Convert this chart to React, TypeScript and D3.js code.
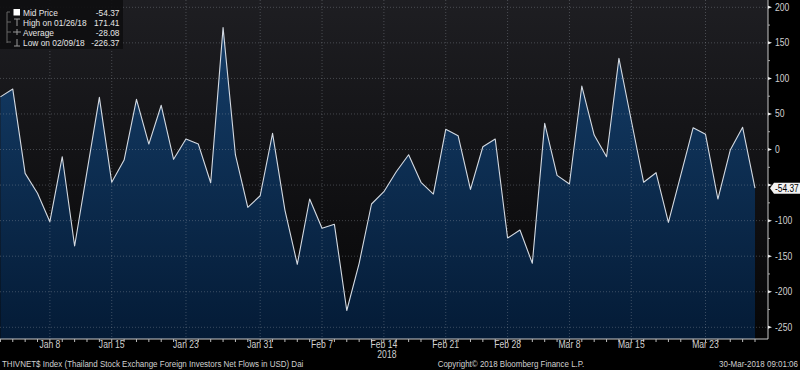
import * as d3 from "d3";

// trading days, Jan 2 - Mar 29 2018 (Jan 1 and Mar 1 closed)
const dates = [
  "01/02", "01/03", "01/04", "01/05", "01/08", "01/09", "01/10", "01/11", "01/12",
  "01/15", "01/16", "01/17", "01/18", "01/19", "01/22", "01/23", "01/24", "01/25",
  "01/26", "01/29", "01/30", "01/31", "02/01", "02/02", "02/05", "02/06", "02/07",
  "02/08", "02/09", "02/12", "02/13", "02/14", "02/15", "02/16", "02/19", "02/20",
  "02/21", "02/22", "02/23", "02/26", "02/27", "02/28", "03/02", "03/05", "03/06",
  "03/07", "03/08", "03/09", "03/12", "03/13", "03/14", "03/15", "03/16", "03/19",
  "03/20", "03/21", "03/22", "03/23", "03/26", "03/27", "03/28", "03/29",
];

const flows = [
  74, 85, -33.5, -61.6, -101.5, -10.1, -135.7, -31.2, 73.4, -46.1,
  -14.8, 70.6, 7.7, 62.2, -13.8, 14.8, 7.7, -46.7, 171.41, -7.7,
  -81.3, -65, 22.8, -85.1, -161.4, -69.6, -110.8, -105.2, -226.37, -160,
  -76.6, -59.3, -31.2, -7.3, -46.1, -62.6, 28.4, 19.4, -56, 3.9,
  14.8, -124.5, -113.2, -160, 36.8, -36.3, -48.5, 89.3, 20.4, -10.1,
  128.3, 40.8, -46.1, -32.6, -102.4, -35.9, 30.7, 21.4, -69.6, -0.7,
  31.2, -54.37,
];

const tickDates = ["01/08", "01/15", "01/23", "01/31", "02/07", "02/14", "02/21", "02/28", "03/08", "03/15", "03/23"];
const tickLabels = ["Jan 8", "Jan 15", "Jan 23", "Jan 31", "Feb 7", "Feb 14", "Feb 21", "Feb 28", "Mar 8", "Mar 15", "Mar 23"];
const yTicks = [200, 150, 100, 50, 0, -50, -100, -150, -200, -250];

const legendRows = [
  { label: "Mid Price", value: "-54.37" },
  { label: "High on 01/26/18", value: "171.41" },
  { label: "Average", value: "-28.08" },
  { label: "Low on 02/09/18", value: "-226.37" },
];

const W = 800;
const H = 370;
const plotRight = 768;
const plotBottom = 339;
const font = "'Liberation Sans', Arial, sans-serif";
const txt = "#d0d0d0";

// Bloomberg's terminal font is narrow; squeeze Liberation Sans horizontally
const T = ({ x, y, size = 9.5, sx = 0.86, anchor = "start", fill = txt, dy, children }: any) => (
  <text
    transform={`translate(${x},${y}) scale(${sx},1)`}
    fontSize={size}
    textAnchor={anchor}
    fill={fill}
    dy={dy}
  >
    {children}
  </text>
);

export default function App() {
  const x = d3.scalePoint<string>().domain(dates).range([0.4, 755]);
  const y = d3.scaleLinear().domain([-250, 200]).range([327.3, 7.3]);

  const data = dates.map((d, i) => ({ d, v: flows[i] }));
  const area = d3
    .area<{ d: string; v: number }>()
    .x((p) => x(p.d)!)
    .y0(plotBottom)
    .y1((p) => y(p.v));
  const line = d3
    .line<{ d: string; v: number }>()
    .x((p) => x(p.d)!)
    .y((p) => y(p.v));

  const minorY = d3.range(-250, 201, 25);
  const last = flows[flows.length - 1];

  return (
    <svg
      width={W}
      height={H}
      style={{ position: "absolute", left: 0, top: 0, background: "#000" }}
      fontFamily={font}
    >
      <defs>
        <linearGradient id="bg" x1="0" y1="0" x2="0" y2={plotBottom} gradientUnits="userSpaceOnUse">
          <stop offset="0" stopColor="#1e1e22" />
          <stop offset="1" stopColor="#060607" />
        </linearGradient>
        <linearGradient id="fill" x1="0" y1="0" x2="0" y2={plotBottom} gradientUnits="userSpaceOnUse">
          <stop offset="0" stopColor="#16406c" />
          <stop offset="1" stopColor="#041b36" />
        </linearGradient>
      </defs>

      <rect x={0} y={0} width={plotRight} height={plotBottom} fill="url(#bg)" />
      <path d={area(data)!} fill="url(#fill)" />

      {/* dotted grid */}
      {yTicks.map((t) => (
        <line
          key={t}
          x1={0}
          x2={plotRight}
          y1={y(t)}
          y2={y(t)}
          stroke="rgba(160,165,175,0.35)"
          strokeDasharray="1,2"
        />
      ))}
      {tickDates.map((d) => (
        <line
          key={d}
          x1={x(d)}
          x2={x(d)}
          y1={0}
          y2={plotBottom}
          stroke="rgba(160,165,175,0.35)"
          strokeDasharray="1,2"
        />
      ))}

      <path d={line(data)!} fill="none" stroke="#d4dae2" strokeWidth={1.1} strokeLinejoin="round" />

      {/* right axis */}
      <line x1={plotRight} x2={plotRight} y1={0} y2={plotBottom} stroke="#c8c8c8" />
      {minorY.map((t) => (
        <line key={t} x1={plotRight} x2={plotRight + 2} y1={y(t)} y2={y(t)} stroke="#aaa" />
      ))}
      {yTicks.map((t) => (
        <g key={t}>
          <path d={`M${plotRight},${y(t) - 1.5} l4,1.5 l-4,1.5 Z`} fill="#eee" />
          {t !== -50 && (
            <T x={plotRight + 7} y={y(t)} dy="0.35em" size={10}>
              {t}
            </T>
          )}
        </g>
      ))}
      <path
        d={`M${plotRight + 2},${y(last)} l4,-5.5 h26 v11 h-26 Z`}
        fill="#f2f2f2"
      />
      <T x={plotRight + 7} y={y(last)} dy="0.35em" size={10} fill="#000" sx={0.84}>
        {last.toFixed(2)}
      </T>

      {/* bottom axis */}
      <line x1={0} x2={plotRight} y1={plotBottom} y2={plotBottom} stroke="#c8c8c8" />
      {dates.map((d) => (
        <line key={d} x1={x(d)} x2={x(d)} y1={plotBottom} y2={plotBottom + 3} stroke="#bbb" />
      ))}
      {tickDates.map((d, i) => (
        <T key={d} x={x(d)} y={348} anchor="middle" size={10}>
          {tickLabels[i]}
        </T>
      ))}
      <T x={x("02/14")! + 3} y={357.5} anchor="middle" size={10}>
        2018
      </T>

      {/* footer */}
      <T x={2} y={366.5} size={9.5} sx={0.84}>
        THIVNET$ Index (Thailand Stock Exchange Foreign Investors Net Flows in USD)  Dai
      </T>
      <T x={511} y={366.5} anchor="middle" size={9.5} sx={0.84}>
        Copyright© 2018 Bloomberg Finance L.P.
      </T>
      <T x={798} y={366.5} anchor="end" size={9.5} sx={0.84}>
        30-Mar-2018 09:01:06
      </T>

      {/* legend */}
      <g>
        <rect x={0} y={0} width={123} height={49} fill="#0e0e10" opacity={0.92} />
        <path d="M7,12 V43 M7,12 H10 M7,22 H11 M7,32 H11 M7,42 H11" stroke="#666" fill="none" />
        <rect x={13.5} y={9} width={6.5} height={6.5} fill="#fff" />
        <path d="M14,19 H20 M17,19 V26" stroke="#999" />
        <path d="M13,32 H21 M17,29 V35" stroke="#999" />
        <path d="M14,46 H20 M17,39 V46" stroke="#999" />
        {legendRows.map((r, i) => (
          <g key={r.label}>
            <T x={23} y={15.5 + i * 10} size={9.5} sx={0.88} fill="#e6e6e6">
              {r.label}
            </T>
            <T x={119.5} y={15.5 + i * 10} anchor="end" size={9.5} sx={0.88} fill="#e6e6e6">
              {r.value}
            </T>
          </g>
        ))}
      </g>
    </svg>
  );
}
